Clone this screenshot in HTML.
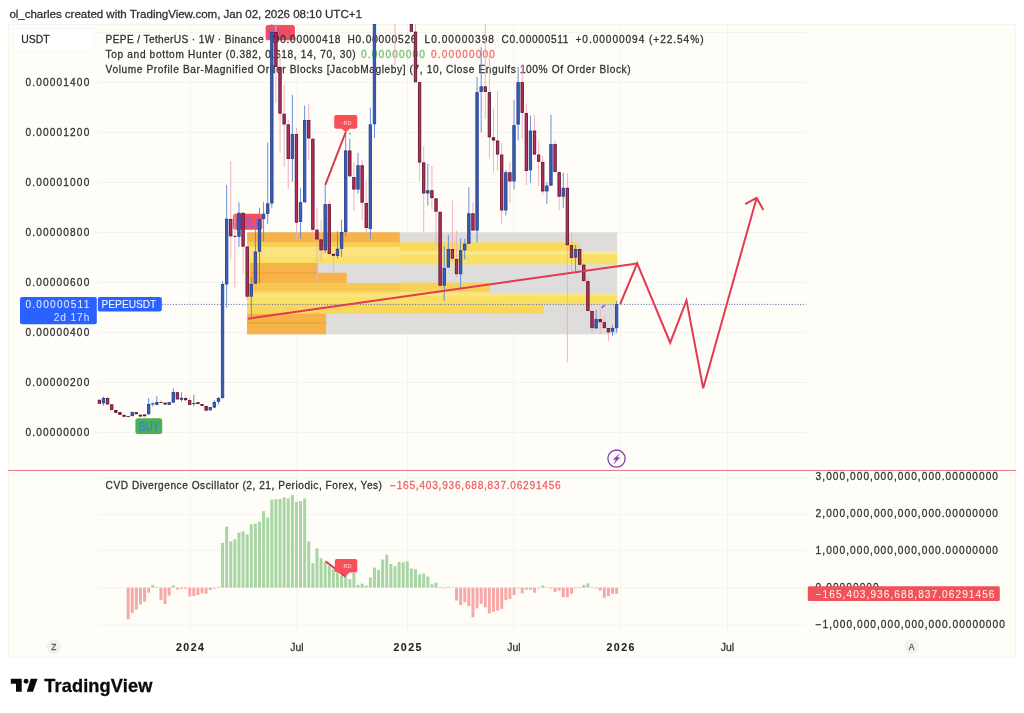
<!DOCTYPE html>
<html lang="en"><head><meta charset="utf-8"><title>PEPEUSDT chart</title>
<style>
html,body{margin:0;padding:0;background:#fff;}
body{width:1024px;height:713px;overflow:hidden;font-family:"Liberation Sans", Arial, sans-serif;}
svg{display:block;position:absolute;left:0;top:0;}
text{font-family:"Liberation Sans", Arial, sans-serif;}
</style></head><body>
<svg width="1024" height="713" viewBox="0 0 1024 713">
<rect x="8.5" y="24.5" width="1007" height="633" fill="#fefdf8" stroke="#f7f5f0" stroke-width="1"/>
<rect x="97" y="32" width="710.5" height="1" fill="#f5f3ee"/>
<rect x="97" y="82" width="710.5" height="1" fill="#f5f3ee"/>
<rect x="97" y="132" width="710.5" height="1" fill="#f5f3ee"/>
<rect x="97" y="182" width="710.5" height="1" fill="#f5f3ee"/>
<rect x="97" y="232" width="710.5" height="1" fill="#f5f3ee"/>
<rect x="97" y="282" width="710.5" height="1" fill="#f5f3ee"/>
<rect x="97" y="332" width="710.5" height="1" fill="#f5f3ee"/>
<rect x="97" y="382" width="710.5" height="1" fill="#f5f3ee"/>
<rect x="97" y="432" width="710.5" height="1" fill="#f5f3ee"/>
<rect x="97" y="477.5" width="710.5" height="1" fill="#f5f3ee"/>
<rect x="97" y="514.1" width="710.5" height="1" fill="#f5f3ee"/>
<rect x="97" y="549.8" width="710.5" height="1" fill="#f5f3ee"/>
<rect x="97" y="587.1" width="710.5" height="1" fill="#f5f3ee"/>
<rect x="97" y="623.6" width="710.5" height="1" fill="#f5f3ee"/>
<rect x="189.5" y="24" width="1" height="608" fill="#f5f3ee"/>
<rect x="296.5" y="24" width="1" height="608" fill="#f5f3ee"/>
<rect x="407.0" y="24" width="1" height="608" fill="#f5f3ee"/>
<rect x="513.5" y="24" width="1" height="608" fill="#f5f3ee"/>
<rect x="620.0" y="24" width="1" height="608" fill="#f5f3ee"/>
<rect x="727.0" y="24" width="1" height="608" fill="#f5f3ee"/>
<rect x="265.6" y="25" width="29.3" height="15.3" rx="2.5" fill="#f94e57"/>
<text x="280.75" y="37.699999999999996" font-size="12.8" text-anchor="middle" fill="#a25cc4" stroke="#a25cc4" stroke-width="0.4" textLength="26.3" lengthAdjust="spacingAndGlyphs">SELL</text>
<rect x="233" y="213.75" width="29.3" height="16" rx="2.5" fill="#f94e57"/>
<text x="248.15" y="227.15" font-size="12.8" text-anchor="middle" fill="#a25cc4" stroke="#a25cc4" stroke-width="0.4" textLength="26.3" lengthAdjust="spacingAndGlyphs">SELL</text>
<text x="105.6" y="42.75" font-size="10.15" fill="#303030" stroke="#303030" stroke-width="0.26" text-anchor="start" textLength="158.0" lengthAdjust="spacing">PEPE / TetherUS · 1W · Binance</text>
<text x="271.5" y="42.75" font-size="10.15" fill="#303030" stroke="#303030" stroke-width="0.26" text-anchor="start" textLength="69.0" lengthAdjust="spacing">O0.00000418</text>
<text x="347.5" y="42.75" font-size="10.15" fill="#303030" stroke="#303030" stroke-width="0.26" text-anchor="start" textLength="69.0" lengthAdjust="spacing">H0.00000526</text>
<text x="424.5" y="42.75" font-size="10.15" fill="#303030" stroke="#303030" stroke-width="0.26" text-anchor="start" textLength="69.5" lengthAdjust="spacing">L0.00000398</text>
<text x="501.5" y="42.75" font-size="10.15" fill="#303030" stroke="#303030" stroke-width="0.26" text-anchor="start" textLength="67.0" lengthAdjust="spacing">C0.00000511</text>
<text x="575.5" y="42.75" font-size="10.15" fill="#303030" stroke="#303030" stroke-width="0.26" text-anchor="start" textLength="128.0" lengthAdjust="spacing">+0.00000094 (+22.54%)</text>
<text x="105.6" y="57.95" font-size="10.15" fill="#303030" stroke="#303030" stroke-width="0.26" text-anchor="start" textLength="250.0" lengthAdjust="spacing">Top and bottom Hunter (0.382, 0.618, 14, 70, 30)</text>
<text x="361" y="57.95" font-size="10.15" fill="#6bbf73" stroke="#6bbf73" stroke-width="0.26" text-anchor="start" textLength="64.0" lengthAdjust="spacing">0.00000000</text>
<text x="431" y="57.95" font-size="10.15" fill="#ee6b73" stroke="#ee6b73" stroke-width="0.26" text-anchor="start" textLength="64.0" lengthAdjust="spacing">0.00000000</text>
<text x="105.6" y="73.1" font-size="10.15" fill="#303030" stroke="#303030" stroke-width="0.26" text-anchor="start" textLength="525.0" lengthAdjust="spacing">Volume Profile Bar-Magnified Order Blocks [JacobMagleby] (7, 10, Close Engulfs 100% Of Order Block)</text>
<rect x="247.1" y="232.3" width="370.1" height="102.0" fill="#dedddb"/>
<rect x="247.1" y="232.3" width="152.7" height="10.1" fill="#f5b349"/>
<rect x="247.1" y="242.2" width="152.9" height="4.8" fill="#f8cf4e"/>
<rect x="247.1" y="246.8" width="152.9" height="10.4" fill="#fbe382"/>
<rect x="247.1" y="257.0" width="152.9" height="6.4" fill="#fae269"/>
<rect x="400.0" y="242.2" width="178.0" height="9.3" fill="#f8da5c"/>
<rect x="400.0" y="251.3" width="217.2" height="3.2" fill="#fbe98e"/>
<rect x="400.0" y="254.3" width="217.2" height="10.1" fill="#f9e066"/>
<rect x="247.1" y="262.9" width="3.1" height="20.5" fill="#fae269"/>
<rect x="250.0" y="262.9" width="67.8" height="20.3" fill="#f5b349"/>
<rect x="317.6" y="272.7" width="29.2" height="10.5" fill="#f5b349"/>
<rect x="250.0" y="272.3" width="67.8" height="1.7" fill="#f3a633"/>
<rect x="247.1" y="283.0" width="152.9" height="8.2" fill="#f6c851"/>
<rect x="247.1" y="291.0" width="152.9" height="2.8" fill="#f9d75d"/>
<rect x="400.0" y="282.6" width="90.0" height="9.6" fill="#f7d256"/>
<rect x="400.0" y="292.0" width="90.0" height="2.0" fill="#fae27c"/>
<rect x="247.1" y="293.6" width="152.9" height="3.8" fill="#fbe382"/>
<rect x="247.1" y="297.2" width="152.9" height="7.2" fill="#fae269"/>
<rect x="400.0" y="293.8" width="217.2" height="2.2" fill="#fbe585"/>
<rect x="400.0" y="295.8" width="217.2" height="8.6" fill="#fae064"/>
<rect x="247.1" y="304.2" width="296.9" height="9.8" fill="#f9d75d"/>
<rect x="247.1" y="313.8" width="79.0" height="20.5" fill="#f5b349"/>
<rect x="247.1" y="322.0" width="79.0" height="2.0" fill="#f3a633"/>
<line x1="162" y1="304.4" x2="806" y2="304.4" stroke="#5f70a8" stroke-width="1" stroke-dasharray="1.1 1.65"/>
<g><rect x="98.93" y="399.8" width="0.95" height="3.9" fill="#eeb0be"/><rect x="103.04" y="396.6" width="0.95" height="9.0" fill="#6389da"/><rect x="107.14" y="396.3" width="0.95" height="8.5" fill="#eeb0be"/><rect x="111.25" y="404.4" width="0.95" height="6.6" fill="#eeb0be"/><rect x="115.35" y="410.0" width="0.95" height="2.7" fill="#eeb0be"/><rect x="119.46" y="412.2" width="0.95" height="2.5" fill="#eeb0be"/><rect x="123.56" y="415.0" width="0.95" height="1.6" fill="#eeb0be"/><rect x="127.67" y="416.0" width="0.95" height="0.9" fill="#eeb0be"/><rect x="131.77" y="411.9" width="0.95" height="4.2" fill="#6389da"/><rect x="135.88" y="412.2" width="0.95" height="2.0" fill="#eeb0be"/><rect x="139.98" y="415.0" width="0.95" height="1.2" fill="#eeb0be"/><rect x="144.09" y="414.5" width="0.95" height="1.8" fill="#eeb0be"/><rect x="148.19" y="398.1" width="0.95" height="16.6" fill="#6389da"/><rect x="152.30" y="402.5" width="0.95" height="3.9" fill="#6389da"/><rect x="156.40" y="396.0" width="0.95" height="9.3" fill="#6389da"/><rect x="160.51" y="400.2" width="0.95" height="3.1" fill="#eeb0be"/><rect x="164.61" y="402.8" width="0.95" height="1.6" fill="#eeb0be"/><rect x="168.72" y="402.2" width="0.95" height="2.6" fill="#6389da"/><rect x="172.82" y="388.4" width="0.95" height="14.4" fill="#6389da"/><rect x="176.93" y="392.3" width="0.95" height="7.1" fill="#eeb0be"/><rect x="181.03" y="392.3" width="0.95" height="9.4" fill="#6389da"/><rect x="185.14" y="395.5" width="0.95" height="5.1" fill="#eeb0be"/><rect x="189.24" y="397.0" width="0.95" height="8.3" fill="#eeb0be"/><rect x="193.34" y="394.7" width="0.95" height="11.7" fill="#6389da"/><rect x="197.45" y="402.5" width="0.95" height="1.2" fill="#eeb0be"/><rect x="201.56" y="404.4" width="0.95" height="1.2" fill="#eeb0be"/><rect x="205.66" y="406.0" width="0.95" height="4.6" fill="#eeb0be"/><rect x="209.77" y="407.2" width="0.95" height="3.1" fill="#6389da"/><rect x="213.87" y="400.2" width="0.95" height="7.8" fill="#6389da"/><rect x="217.98" y="397.0" width="0.95" height="7.4" fill="#6389da"/><rect x="222.08" y="281.0" width="0.95" height="117.1" fill="#6389da"/><rect x="226.19" y="184.8" width="0.95" height="123.0" fill="#6389da"/><rect x="230.29" y="161.0" width="0.95" height="98.4" fill="#eeb0be"/><rect x="234.40" y="215.0" width="0.95" height="72.5" fill="#eeb0be"/><rect x="238.50" y="202.3" width="0.95" height="44.6" fill="#6389da"/><rect x="242.61" y="212.8" width="0.95" height="60.6" fill="#eeb0be"/><rect x="246.71" y="246.6" width="0.95" height="53.4" fill="#eeb0be"/><rect x="250.82" y="276.6" width="0.95" height="41.7" fill="#6389da"/><rect x="254.92" y="229.0" width="0.95" height="54.6" fill="#6389da"/><rect x="259.02" y="207.8" width="0.95" height="75.8" fill="#6389da"/><rect x="263.13" y="202.0" width="0.95" height="39.4" fill="#6389da"/><rect x="267.24" y="142.6" width="0.95" height="81.6" fill="#6389da"/><rect x="271.34" y="24.0" width="0.95" height="183.8" fill="#6389da"/><rect x="275.44" y="24.0" width="0.95" height="79.0" fill="#eeb0be"/><rect x="279.55" y="55.0" width="0.95" height="97.8" fill="#eeb0be"/><rect x="283.65" y="85.0" width="0.95" height="81.9" fill="#eeb0be"/><rect x="287.76" y="120.0" width="0.95" height="68.8" fill="#eeb0be"/><rect x="291.87" y="95.0" width="0.95" height="86.7" fill="#6389da"/><rect x="295.97" y="127.8" width="0.95" height="111.2" fill="#eeb0be"/><rect x="300.07" y="188.0" width="0.95" height="50.3" fill="#6389da"/><rect x="304.18" y="105.6" width="0.95" height="96.7" fill="#6389da"/><rect x="308.28" y="103.6" width="0.95" height="57.0" fill="#eeb0be"/><rect x="312.39" y="138.0" width="0.95" height="101.0" fill="#eeb0be"/><rect x="316.50" y="207.5" width="0.95" height="79.2" fill="#eeb0be"/><rect x="320.60" y="220.3" width="0.95" height="40.7" fill="#eeb0be"/><rect x="324.71" y="184.8" width="0.95" height="68.2" fill="#6389da"/><rect x="328.81" y="200.5" width="0.95" height="53.5" fill="#eeb0be"/><rect x="332.91" y="254.0" width="0.95" height="17.9" fill="#eeb0be"/><rect x="337.02" y="231.2" width="0.95" height="27.4" fill="#6389da"/><rect x="341.12" y="219.5" width="0.95" height="37.5" fill="#6389da"/><rect x="345.23" y="134.0" width="0.95" height="102.0" fill="#6389da"/><rect x="349.34" y="150.5" width="0.95" height="26.5" fill="#eeb0be"/><rect x="353.44" y="162.0" width="0.95" height="48.6" fill="#eeb0be"/><rect x="357.54" y="152.8" width="0.95" height="40.6" fill="#6389da"/><rect x="361.65" y="159.8" width="0.95" height="60.2" fill="#eeb0be"/><rect x="365.75" y="179.4" width="0.95" height="54.2" fill="#eeb0be"/><rect x="369.86" y="107.5" width="0.95" height="131.5" fill="#6389da"/><rect x="373.97" y="24.0" width="0.95" height="114.0" fill="#6389da"/><rect x="394.49" y="24.0" width="0.95" height="41.3" fill="#eeb0be"/><rect x="410.91" y="24.0" width="0.95" height="7.7" fill="#eeb0be"/><rect x="415.01" y="24.0" width="0.95" height="58.2" fill="#eeb0be"/><rect x="419.12" y="82.2" width="0.95" height="99.5" fill="#eeb0be"/><rect x="423.23" y="146.6" width="0.95" height="85.4" fill="#eeb0be"/><rect x="427.33" y="163.8" width="0.95" height="41.8" fill="#6389da"/><rect x="431.44" y="166.0" width="0.95" height="43.0" fill="#eeb0be"/><rect x="435.54" y="198.4" width="0.95" height="46.6" fill="#eeb0be"/><rect x="439.64" y="211.8" width="0.95" height="77.2" fill="#eeb0be"/><rect x="443.75" y="246.0" width="0.95" height="54.8" fill="#6389da"/><rect x="447.86" y="235.0" width="0.95" height="32.5" fill="#6389da"/><rect x="451.96" y="200.5" width="0.95" height="61.5" fill="#eeb0be"/><rect x="456.07" y="230.5" width="0.95" height="46.5" fill="#eeb0be"/><rect x="460.17" y="238.3" width="0.95" height="51.5" fill="#6389da"/><rect x="464.27" y="239.0" width="0.95" height="20.4" fill="#6389da"/><rect x="468.38" y="187.2" width="0.95" height="56.6" fill="#6389da"/><rect x="472.49" y="202.8" width="0.95" height="27.7" fill="#eeb0be"/><rect x="476.59" y="77.0" width="0.95" height="165.2" fill="#6389da"/><rect x="480.70" y="47.3" width="0.95" height="85.2" fill="#6389da"/><rect x="484.80" y="24.0" width="0.95" height="95.0" fill="#eeb0be"/><rect x="488.90" y="55.0" width="0.95" height="103.3" fill="#eeb0be"/><rect x="493.01" y="108.3" width="0.95" height="64.0" fill="#eeb0be"/><rect x="497.12" y="91.0" width="0.95" height="79.8" fill="#eeb0be"/><rect x="501.22" y="143.0" width="0.95" height="81.2" fill="#eeb0be"/><rect x="505.33" y="170.0" width="0.95" height="45.5" fill="#6389da"/><rect x="509.43" y="162.2" width="0.95" height="40.6" fill="#eeb0be"/><rect x="513.53" y="100.0" width="0.95" height="89.5" fill="#6389da"/><rect x="517.64" y="67.0" width="0.95" height="73.4" fill="#6389da"/><rect x="521.75" y="64.0" width="0.95" height="75.0" fill="#eeb0be"/><rect x="525.85" y="103.8" width="0.95" height="81.2" fill="#eeb0be"/><rect x="529.96" y="115.5" width="0.95" height="67.3" fill="#6389da"/><rect x="534.06" y="114.7" width="0.95" height="39.8" fill="#eeb0be"/><rect x="538.17" y="140.5" width="0.95" height="45.5" fill="#eeb0be"/><rect x="542.27" y="155.3" width="0.95" height="40.0" fill="#eeb0be"/><rect x="546.38" y="182.0" width="0.95" height="21.9" fill="#6389da"/><rect x="550.48" y="114.7" width="0.95" height="70.9" fill="#6389da"/><rect x="554.59" y="140.5" width="0.95" height="31.5" fill="#eeb0be"/><rect x="558.69" y="172.2" width="0.95" height="37.8" fill="#eeb0be"/><rect x="562.80" y="172.7" width="0.95" height="35.1" fill="#6389da"/><rect x="566.90" y="173.4" width="0.95" height="188.6" fill="#eeb0be"/><rect x="571.00" y="232.8" width="0.95" height="39.2" fill="#eeb0be"/><rect x="575.11" y="245.0" width="0.95" height="26.4" fill="#6389da"/><rect x="579.22" y="244.5" width="0.95" height="22.5" fill="#eeb0be"/><rect x="583.32" y="264.7" width="0.95" height="18.3" fill="#eeb0be"/><rect x="587.43" y="276.0" width="0.95" height="35.0" fill="#eeb0be"/><rect x="591.53" y="311.0" width="0.95" height="22.0" fill="#eeb0be"/><rect x="595.63" y="310.0" width="0.95" height="18.4" fill="#6389da"/><rect x="599.74" y="308.0" width="0.95" height="26.0" fill="#eeb0be"/><rect x="603.85" y="315.0" width="0.95" height="13.1" fill="#eeb0be"/><rect x="607.95" y="328.1" width="0.95" height="12.9" fill="#eeb0be"/><rect x="612.05" y="325.3" width="0.95" height="10.9" fill="#6389da"/><rect x="616.16" y="301.0" width="0.95" height="31.3" fill="#6389da"/><rect x="349.34" y="138.75" width="0.95" height="11.8" fill="#6389da"/></g>
<g><rect x="98.18" y="400.20" width="2.44" height="3.15" fill="#b42f5c" stroke="#5e1431" stroke-width="0.85"/><rect x="102.29" y="398.50" width="2.44" height="4.40" fill="#3a5eb6" stroke="#283f8e" stroke-width="0.85"/><rect x="106.39" y="398.50" width="2.44" height="5.50" fill="#b42f5c" stroke="#5e1431" stroke-width="0.85"/><rect x="110.50" y="404.80" width="2.44" height="4.60" fill="#b42f5c" stroke="#5e1431" stroke-width="0.85"/><rect x="114.60" y="410.40" width="2.44" height="1.90" fill="#6a1a3c" stroke="#5e1431" stroke-width="0.85"/><rect x="118.71" y="412.60" width="2.44" height="1.70" fill="#6a1a3c" stroke="#5e1431" stroke-width="0.85"/><rect x="122.81" y="415.30" width="2.44" height="1.00" fill="#6a1a3c" stroke="#5e1431" stroke-width="0.85"/><rect x="126.54" y="416.0" width="3.2" height="0.9" fill="#5e1431"/><rect x="131.02" y="412.30" width="2.44" height="3.40" fill="#3a5eb6" stroke="#283f8e" stroke-width="0.85"/><rect x="135.13" y="412.60" width="2.44" height="1.20" fill="#6a1a3c" stroke="#5e1431" stroke-width="0.85"/><rect x="139.23" y="415.12" width="2.44" height="1.00" fill="#6a1a3c" stroke="#5e1431" stroke-width="0.85"/><rect x="143.34" y="414.88" width="2.44" height="1.00" fill="#6a1a3c" stroke="#5e1431" stroke-width="0.85"/><rect x="147.44" y="404.40" width="2.44" height="9.40" fill="#3a5eb6" stroke="#283f8e" stroke-width="0.85"/><rect x="151.17" y="403.3" width="3.2" height="1.1" fill="#283f8e"/><rect x="155.65" y="402.40" width="2.44" height="2.00" fill="#3a5eb6" stroke="#283f8e" stroke-width="0.85"/><rect x="159.38" y="402.0" width="3.2" height="0.9" fill="#5e1431"/><rect x="163.86" y="403.10" width="2.44" height="1.00" fill="#6a1a3c" stroke="#5e1431" stroke-width="0.85"/><rect x="167.97" y="402.60" width="2.44" height="1.80" fill="#3a5eb6" stroke="#283f8e" stroke-width="0.85"/><rect x="172.07" y="392.40" width="2.44" height="9.70" fill="#3a5eb6" stroke="#283f8e" stroke-width="0.85"/><rect x="176.18" y="392.70" width="2.44" height="6.30" fill="#b42f5c" stroke="#5e1431" stroke-width="0.85"/><rect x="180.28" y="398.25" width="2.44" height="1.00" fill="#3a2c6e" stroke="#283f8e" stroke-width="0.85"/><rect x="184.39" y="398.50" width="2.44" height="1.30" fill="#6a1a3c" stroke="#5e1431" stroke-width="0.85"/><rect x="188.49" y="400.60" width="2.44" height="3.80" fill="#b42f5c" stroke="#5e1431" stroke-width="0.85"/><rect x="192.22" y="403.0" width="3.2" height="1.1" fill="#283f8e"/><rect x="196.70" y="402.62" width="2.44" height="1.00" fill="#6a1a3c" stroke="#5e1431" stroke-width="0.85"/><rect x="200.81" y="404.50" width="2.44" height="1.00" fill="#6a1a3c" stroke="#5e1431" stroke-width="0.85"/><rect x="204.91" y="406.40" width="2.44" height="3.80" fill="#b42f5c" stroke="#5e1431" stroke-width="0.85"/><rect x="209.02" y="407.60" width="2.44" height="2.30" fill="#3a5eb6" stroke="#283f8e" stroke-width="0.85"/><rect x="213.12" y="402.40" width="2.44" height="4.70" fill="#3a5eb6" stroke="#283f8e" stroke-width="0.85"/><rect x="217.23" y="398.50" width="2.44" height="2.80" fill="#3a5eb6" stroke="#283f8e" stroke-width="0.85"/><rect x="221.33" y="284.40" width="2.44" height="113.30" fill="#3a5eb6" stroke="#283f8e" stroke-width="0.85"/><rect x="225.44" y="219.15" width="2.44" height="64.85" fill="#3a5eb6" stroke="#283f8e" stroke-width="0.85"/><rect x="229.54" y="219.40" width="2.44" height="16.45" fill="#b42f5c" stroke="#5e1431" stroke-width="0.85"/><rect x="233.27" y="235.9" width="3.2" height="0.9" fill="#5e1431"/><rect x="237.75" y="213.20" width="2.44" height="23.10" fill="#3a5eb6" stroke="#283f8e" stroke-width="0.85"/><rect x="241.86" y="213.20" width="2.44" height="33.00" fill="#b42f5c" stroke="#5e1431" stroke-width="0.85"/><rect x="245.96" y="247.00" width="2.44" height="49.20" fill="#b42f5c" stroke="#5e1431" stroke-width="0.85"/><rect x="250.07" y="284.40" width="2.44" height="11.80" fill="#3a5eb6" stroke="#283f8e" stroke-width="0.85"/><rect x="254.17" y="252.00" width="2.44" height="31.20" fill="#3a5eb6" stroke="#283f8e" stroke-width="0.85"/><rect x="258.27" y="219.40" width="2.44" height="31.80" fill="#3a5eb6" stroke="#283f8e" stroke-width="0.85"/><rect x="262.38" y="214.15" width="2.44" height="4.45" fill="#3a5eb6" stroke="#283f8e" stroke-width="0.85"/><rect x="266.49" y="203.80" width="2.44" height="9.55" fill="#3a5eb6" stroke="#283f8e" stroke-width="0.85"/><rect x="270.59" y="32.40" width="2.44" height="170.60" fill="#3a5eb6" stroke="#283f8e" stroke-width="0.85"/><rect x="274.69" y="32.40" width="2.44" height="34.20" fill="#b42f5c" stroke="#5e1431" stroke-width="0.85"/><rect x="278.80" y="67.40" width="2.44" height="45.80" fill="#b42f5c" stroke="#5e1431" stroke-width="0.85"/><rect x="282.90" y="114.15" width="2.44" height="9.85" fill="#b42f5c" stroke="#5e1431" stroke-width="0.85"/><rect x="287.01" y="124.80" width="2.44" height="33.80" fill="#b42f5c" stroke="#5e1431" stroke-width="0.85"/><rect x="291.12" y="134.40" width="2.44" height="24.20" fill="#3a5eb6" stroke="#283f8e" stroke-width="0.85"/><rect x="295.22" y="134.40" width="2.44" height="87.80" fill="#b42f5c" stroke="#5e1431" stroke-width="0.85"/><rect x="299.32" y="202.70" width="2.44" height="18.80" fill="#3a5eb6" stroke="#283f8e" stroke-width="0.85"/><rect x="303.43" y="120.40" width="2.44" height="81.50" fill="#3a5eb6" stroke="#283f8e" stroke-width="0.85"/><rect x="307.53" y="120.40" width="2.44" height="17.60" fill="#b42f5c" stroke="#5e1431" stroke-width="0.85"/><rect x="311.64" y="139.15" width="2.44" height="90.15" fill="#b42f5c" stroke="#5e1431" stroke-width="0.85"/><rect x="315.75" y="230.10" width="2.44" height="8.90" fill="#b42f5c" stroke="#5e1431" stroke-width="0.85"/><rect x="319.85" y="239.80" width="2.44" height="10.10" fill="#b42f5c" stroke="#5e1431" stroke-width="0.85"/><rect x="323.96" y="204.60" width="2.44" height="45.30" fill="#3a5eb6" stroke="#283f8e" stroke-width="0.85"/><rect x="328.06" y="204.60" width="2.44" height="49.00" fill="#b42f5c" stroke="#5e1431" stroke-width="0.85"/><rect x="332.16" y="254.25" width="2.44" height="1.00" fill="#6a1a3c" stroke="#5e1431" stroke-width="0.85"/><rect x="336.27" y="249.15" width="2.44" height="6.45" fill="#3a5eb6" stroke="#283f8e" stroke-width="0.85"/><rect x="340.38" y="232.40" width="2.44" height="15.95" fill="#3a5eb6" stroke="#283f8e" stroke-width="0.85"/><rect x="344.48" y="150.90" width="2.44" height="80.70" fill="#3a5eb6" stroke="#283f8e" stroke-width="0.85"/><rect x="348.59" y="150.90" width="2.44" height="24.95" fill="#b42f5c" stroke="#5e1431" stroke-width="0.85"/><rect x="352.69" y="177.40" width="2.44" height="11.70" fill="#b42f5c" stroke="#5e1431" stroke-width="0.85"/><rect x="356.79" y="165.70" width="2.44" height="23.40" fill="#3a5eb6" stroke="#283f8e" stroke-width="0.85"/><rect x="360.90" y="165.70" width="2.44" height="36.50" fill="#b42f5c" stroke="#5e1431" stroke-width="0.85"/><rect x="365.00" y="203.40" width="2.44" height="24.20" fill="#b42f5c" stroke="#5e1431" stroke-width="0.85"/><rect x="369.11" y="124.80" width="2.44" height="103.60" fill="#3a5eb6" stroke="#283f8e" stroke-width="0.85"/><rect x="373.22" y="24.40" width="2.44" height="99.40" fill="#3a5eb6" stroke="#283f8e" stroke-width="0.85"/><rect x="410.16" y="24.40" width="2.44" height="6.90" fill="#b42f5c" stroke="#5e1431" stroke-width="0.85"/><rect x="414.26" y="32.10" width="2.44" height="49.70" fill="#b42f5c" stroke="#5e1431" stroke-width="0.85"/><rect x="418.37" y="82.60" width="2.44" height="79.50" fill="#b42f5c" stroke="#5e1431" stroke-width="0.85"/><rect x="422.48" y="162.90" width="2.44" height="30.10" fill="#b42f5c" stroke="#5e1431" stroke-width="0.85"/><rect x="426.58" y="190.70" width="2.44" height="2.30" fill="#3a5eb6" stroke="#283f8e" stroke-width="0.85"/><rect x="430.69" y="190.70" width="2.44" height="7.00" fill="#b42f5c" stroke="#5e1431" stroke-width="0.85"/><rect x="434.79" y="198.80" width="2.44" height="12.40" fill="#b42f5c" stroke="#5e1431" stroke-width="0.85"/><rect x="438.89" y="212.20" width="2.44" height="73.00" fill="#b42f5c" stroke="#5e1431" stroke-width="0.85"/><rect x="443.00" y="268.40" width="2.44" height="16.80" fill="#3a5eb6" stroke="#283f8e" stroke-width="0.85"/><rect x="447.11" y="249.40" width="2.44" height="17.70" fill="#3a5eb6" stroke="#283f8e" stroke-width="0.85"/><rect x="451.21" y="249.40" width="2.44" height="8.80" fill="#b42f5c" stroke="#5e1431" stroke-width="0.85"/><rect x="455.32" y="259.40" width="2.44" height="14.40" fill="#b42f5c" stroke="#5e1431" stroke-width="0.85"/><rect x="459.42" y="250.70" width="2.44" height="23.10" fill="#3a5eb6" stroke="#283f8e" stroke-width="0.85"/><rect x="463.52" y="244.15" width="2.44" height="5.75" fill="#3a5eb6" stroke="#283f8e" stroke-width="0.85"/><rect x="467.63" y="213.70" width="2.44" height="29.65" fill="#3a5eb6" stroke="#283f8e" stroke-width="0.85"/><rect x="471.74" y="213.70" width="2.44" height="16.40" fill="#b42f5c" stroke="#5e1431" stroke-width="0.85"/><rect x="475.84" y="92.60" width="2.44" height="137.50" fill="#3a5eb6" stroke="#283f8e" stroke-width="0.85"/><rect x="479.95" y="86.80" width="2.44" height="4.70" fill="#3a5eb6" stroke="#283f8e" stroke-width="0.85"/><rect x="484.05" y="86.80" width="2.44" height="4.70" fill="#b42f5c" stroke="#5e1431" stroke-width="0.85"/><rect x="488.15" y="92.60" width="2.44" height="44.30" fill="#b42f5c" stroke="#5e1431" stroke-width="0.85"/><rect x="492.26" y="137.70" width="2.44" height="2.40" fill="#6a1a3c" stroke="#5e1431" stroke-width="0.85"/><rect x="496.37" y="141.00" width="2.44" height="13.10" fill="#b42f5c" stroke="#5e1431" stroke-width="0.85"/><rect x="500.47" y="155.00" width="2.44" height="55.00" fill="#b42f5c" stroke="#5e1431" stroke-width="0.85"/><rect x="504.58" y="172.70" width="2.44" height="37.30" fill="#3a5eb6" stroke="#283f8e" stroke-width="0.85"/><rect x="508.68" y="172.70" width="2.44" height="8.30" fill="#b42f5c" stroke="#5e1431" stroke-width="0.85"/><rect x="512.78" y="125.60" width="2.44" height="55.40" fill="#3a5eb6" stroke="#283f8e" stroke-width="0.85"/><rect x="516.89" y="82.60" width="2.44" height="41.50" fill="#3a5eb6" stroke="#283f8e" stroke-width="0.85"/><rect x="521.00" y="82.60" width="2.44" height="29.80" fill="#b42f5c" stroke="#5e1431" stroke-width="0.85"/><rect x="525.10" y="113.40" width="2.44" height="57.20" fill="#b42f5c" stroke="#5e1431" stroke-width="0.85"/><rect x="529.21" y="131.00" width="2.44" height="38.90" fill="#3a5eb6" stroke="#283f8e" stroke-width="0.85"/><rect x="533.31" y="131.00" width="2.44" height="23.10" fill="#b42f5c" stroke="#5e1431" stroke-width="0.85"/><rect x="537.42" y="155.00" width="2.44" height="6.30" fill="#b42f5c" stroke="#5e1431" stroke-width="0.85"/><rect x="541.52" y="162.40" width="2.44" height="28.60" fill="#b42f5c" stroke="#5e1431" stroke-width="0.85"/><rect x="545.62" y="186.00" width="2.44" height="5.00" fill="#3a5eb6" stroke="#283f8e" stroke-width="0.85"/><rect x="549.73" y="144.40" width="2.44" height="40.80" fill="#3a5eb6" stroke="#283f8e" stroke-width="0.85"/><rect x="553.84" y="144.40" width="2.44" height="27.20" fill="#b42f5c" stroke="#5e1431" stroke-width="0.85"/><rect x="557.94" y="172.60" width="2.44" height="23.60" fill="#b42f5c" stroke="#5e1431" stroke-width="0.85"/><rect x="562.05" y="188.20" width="2.44" height="8.00" fill="#3a5eb6" stroke="#283f8e" stroke-width="0.85"/><rect x="566.15" y="188.20" width="2.44" height="56.60" fill="#b42f5c" stroke="#5e1431" stroke-width="0.85"/><rect x="570.25" y="245.60" width="2.44" height="11.80" fill="#b42f5c" stroke="#5e1431" stroke-width="0.85"/><rect x="574.36" y="249.40" width="2.44" height="7.70" fill="#3a5eb6" stroke="#283f8e" stroke-width="0.85"/><rect x="578.47" y="249.40" width="2.44" height="14.90" fill="#b42f5c" stroke="#5e1431" stroke-width="0.85"/><rect x="582.57" y="265.10" width="2.44" height="15.50" fill="#b42f5c" stroke="#5e1431" stroke-width="0.85"/><rect x="586.68" y="281.60" width="2.44" height="29.00" fill="#b42f5c" stroke="#5e1431" stroke-width="0.85"/><rect x="590.78" y="311.40" width="2.44" height="16.30" fill="#b42f5c" stroke="#5e1431" stroke-width="0.85"/><rect x="594.88" y="319.40" width="2.44" height="8.60" fill="#3a5eb6" stroke="#283f8e" stroke-width="0.85"/><rect x="598.99" y="319.40" width="2.44" height="2.40" fill="#6a1a3c" stroke="#5e1431" stroke-width="0.85"/><rect x="603.10" y="322.60" width="2.44" height="5.10" fill="#b42f5c" stroke="#5e1431" stroke-width="0.85"/><rect x="607.20" y="328.50" width="2.44" height="3.40" fill="#b42f5c" stroke="#5e1431" stroke-width="0.85"/><rect x="611.30" y="328.50" width="2.44" height="2.70" fill="#3a5eb6" stroke="#283f8e" stroke-width="0.85"/><rect x="615.41" y="304.60" width="2.44" height="23.10" fill="#3a5eb6" stroke="#283f8e" stroke-width="0.85"/></g>
<path d="M601.4 307.8 L605 305.3" stroke="#a25fd6" stroke-width="1.7" fill="none"/>
<line x1="248.1" y1="318.7" x2="637.2" y2="263.5" stroke="#e33a50" stroke-width="2"/>
<polyline points="620.2,304 637.2,263.3 670.2,342.7 686.5,300.4 703.2,388.3 756.6,197.9" fill="none" stroke="#e33a50" stroke-width="2" stroke-linejoin="miter"/>
<polyline points="745.2,204.1 756.6,197.9 763.4,210" fill="none" stroke="#e33a50" stroke-width="2"/>
<line x1="325.3" y1="184.8" x2="345.75" y2="132" stroke="#d63a4e" stroke-width="2"/>
<path d="M336.2 115.1 H355.3 a2 2 0 0 1 2 2 V126.7 a2 2 0 0 1 -2 2 H349.8 L345.75 132.2 L341.8 128.7 H336.2 a2 2 0 0 1 -2 -2 V117.1 a2 2 0 0 1 2 -2 Z" fill="#f94e57"/>
<text x="346.6" y="124.6" font-size="5.6" text-anchor="middle" fill="#ffd9da">-RD</text>
<circle cx="349.9" cy="133.8" r="0.9" fill="#5cb85c"/>
<rect x="135.4" y="418.3" width="26.8" height="15.7" rx="2.5" fill="#4caf50"/>
<text x="149.2" y="430.8" font-size="12.2" text-anchor="middle" fill="#3390b4" stroke="#3390b4" stroke-width="0.45" textLength="20.6" lengthAdjust="spacingAndGlyphs">BUY</text>
<circle cx="616.5" cy="458.6" r="8.6" fill="none" stroke="#7d3fa3" stroke-width="1.3"/>
<path d="M619.2 454 L613.4 459.5 L616.3 459.5 L613.9 463.5 L619.8 457.7 L616.9 457.7 Z" fill="#9a2ec4" stroke="#8a30b0" stroke-width="0.4" stroke-linejoin="round"/>
<rect x="8" y="470" width="1008" height="1" fill="#e77a87"/>
<g><rect x="126.64" y="587.6" width="3" height="31.6" fill="#f6aaa8"/><rect x="130.74" y="587.6" width="3" height="25.4" fill="#f6aaa8"/><rect x="134.85" y="587.6" width="3" height="22.0" fill="#f6aaa8"/><rect x="138.95" y="587.6" width="3" height="16.8" fill="#f6aaa8"/><rect x="143.06" y="587.6" width="3" height="14.1" fill="#f6aaa8"/><rect x="147.16" y="587.6" width="3" height="5.1" fill="#f6aaa8"/><rect x="151.27" y="584.9" width="3" height="2.7" fill="#a9d5a5"/><rect x="155.37" y="586.9" width="3" height="0.7" fill="#a9d5a5"/><rect x="159.48" y="587.6" width="3" height="12.4" fill="#f6aaa8"/><rect x="163.58" y="587.6" width="3" height="16.4" fill="#f6aaa8"/><rect x="167.69" y="587.6" width="3" height="8.0" fill="#f6aaa8"/><rect x="171.79" y="585.3" width="3" height="2.3" fill="#a9d5a5"/><rect x="175.90" y="587.6" width="3" height="2.0" fill="#f6aaa8"/><rect x="180.00" y="587.6" width="3" height="1.2" fill="#f6aaa8"/><rect x="184.11" y="587.6" width="3" height="1.2" fill="#f6aaa8"/><rect x="188.21" y="587.6" width="3" height="8.9" fill="#f6aaa8"/><rect x="192.31" y="587.6" width="3" height="8.4" fill="#f6aaa8"/><rect x="196.42" y="587.6" width="3" height="7.4" fill="#f6aaa8"/><rect x="200.53" y="587.6" width="3" height="5.8" fill="#f6aaa8"/><rect x="204.63" y="587.6" width="3" height="6.2" fill="#f6aaa8"/><rect x="208.74" y="587.6" width="3" height="2.4" fill="#f6aaa8"/><rect x="212.84" y="587.6" width="3" height="0.8" fill="#f6aaa8"/><rect x="216.95" y="586.9" width="3" height="0.7" fill="#a9d5a5"/><rect x="221.05" y="542.9" width="3" height="44.7" fill="#a9d5a5"/><rect x="225.16" y="526.5" width="3" height="61.1" fill="#a9d5a5"/><rect x="229.26" y="541.5" width="3" height="46.1" fill="#a9d5a5"/><rect x="233.37" y="539.3" width="3" height="48.3" fill="#a9d5a5"/><rect x="237.47" y="532.6" width="3" height="55.0" fill="#a9d5a5"/><rect x="241.58" y="531.2" width="3" height="56.4" fill="#a9d5a5"/><rect x="245.68" y="534.4" width="3" height="53.2" fill="#a9d5a5"/><rect x="249.79" y="524.3" width="3" height="63.3" fill="#a9d5a5"/><rect x="253.89" y="523.6" width="3" height="64.0" fill="#a9d5a5"/><rect x="258.00" y="521.6" width="3" height="66.0" fill="#a9d5a5"/><rect x="262.10" y="511.2" width="3" height="76.4" fill="#a9d5a5"/><rect x="266.21" y="517.5" width="3" height="70.1" fill="#a9d5a5"/><rect x="270.31" y="499.6" width="3" height="88.0" fill="#a9d5a5"/><rect x="274.42" y="499.1" width="3" height="88.5" fill="#a9d5a5"/><rect x="278.52" y="498.9" width="3" height="88.7" fill="#a9d5a5"/><rect x="282.62" y="497.3" width="3" height="90.3" fill="#a9d5a5"/><rect x="286.73" y="498.4" width="3" height="89.2" fill="#a9d5a5"/><rect x="290.84" y="495.0" width="3" height="92.6" fill="#a9d5a5"/><rect x="294.94" y="501.8" width="3" height="85.8" fill="#a9d5a5"/><rect x="299.05" y="501.1" width="3" height="86.5" fill="#a9d5a5"/><rect x="303.15" y="498.4" width="3" height="89.2" fill="#a9d5a5"/><rect x="307.25" y="541.5" width="3" height="46.1" fill="#a9d5a5"/><rect x="311.36" y="563.1" width="3" height="24.5" fill="#a9d5a5"/><rect x="315.47" y="548.3" width="3" height="39.3" fill="#a9d5a5"/><rect x="319.57" y="558.4" width="3" height="29.2" fill="#a9d5a5"/><rect x="323.68" y="562.4" width="3" height="25.2" fill="#a9d5a5"/><rect x="327.78" y="565.8" width="3" height="21.8" fill="#a9d5a5"/><rect x="331.88" y="569.2" width="3" height="18.4" fill="#a9d5a5"/><rect x="335.99" y="573.0" width="3" height="14.6" fill="#a9d5a5"/><rect x="340.10" y="574.8" width="3" height="12.8" fill="#a9d5a5"/><rect x="344.20" y="576.3" width="3" height="11.3" fill="#a9d5a5"/><rect x="348.31" y="579.2" width="3" height="8.4" fill="#a9d5a5"/><rect x="352.41" y="573.0" width="3" height="14.6" fill="#a9d5a5"/><rect x="356.51" y="584.9" width="3" height="2.7" fill="#a9d5a5"/><rect x="360.62" y="583.7" width="3" height="3.9" fill="#a9d5a5"/><rect x="364.73" y="585.5" width="3" height="2.1" fill="#a9d5a5"/><rect x="368.83" y="577.5" width="3" height="10.1" fill="#a9d5a5"/><rect x="372.94" y="567.6" width="3" height="20.0" fill="#a9d5a5"/><rect x="377.04" y="569.8" width="3" height="17.8" fill="#a9d5a5"/><rect x="381.14" y="559.5" width="3" height="28.1" fill="#a9d5a5"/><rect x="385.25" y="554.6" width="3" height="33.0" fill="#a9d5a5"/><rect x="389.36" y="564.0" width="3" height="23.6" fill="#a9d5a5"/><rect x="393.46" y="566.2" width="3" height="21.4" fill="#a9d5a5"/><rect x="397.57" y="562.0" width="3" height="25.6" fill="#a9d5a5"/><rect x="401.67" y="562.4" width="3" height="25.2" fill="#a9d5a5"/><rect x="405.78" y="561.3" width="3" height="26.3" fill="#a9d5a5"/><rect x="409.88" y="568.5" width="3" height="19.1" fill="#a9d5a5"/><rect x="413.99" y="569.2" width="3" height="18.4" fill="#a9d5a5"/><rect x="418.09" y="574.3" width="3" height="13.3" fill="#a9d5a5"/><rect x="422.20" y="573.6" width="3" height="14.0" fill="#a9d5a5"/><rect x="426.30" y="576.6" width="3" height="11.0" fill="#a9d5a5"/><rect x="430.41" y="584.2" width="3" height="3.4" fill="#a9d5a5"/><rect x="434.51" y="582.6" width="3" height="5.0" fill="#a9d5a5"/><rect x="438.62" y="587.0" width="3" height="0.6" fill="#a9d5a5"/><rect x="442.72" y="587.6" width="3" height="0.8" fill="#f6aaa8"/><rect x="446.83" y="586.7" width="3" height="0.9" fill="#a9d5a5"/><rect x="450.93" y="587.2" width="3" height="0.4" fill="#a9d5a5"/><rect x="455.04" y="587.6" width="3" height="13.0" fill="#f6aaa8"/><rect x="459.14" y="587.6" width="3" height="17.4" fill="#f6aaa8"/><rect x="463.25" y="587.6" width="3" height="14.6" fill="#f6aaa8"/><rect x="467.35" y="587.6" width="3" height="18.6" fill="#f6aaa8"/><rect x="471.46" y="587.6" width="3" height="29.8" fill="#f6aaa8"/><rect x="475.56" y="587.6" width="3" height="20.8" fill="#f6aaa8"/><rect x="479.67" y="587.6" width="3" height="16.4" fill="#f6aaa8"/><rect x="483.77" y="587.6" width="3" height="19.7" fill="#f6aaa8"/><rect x="487.88" y="587.6" width="3" height="25.8" fill="#f6aaa8"/><rect x="491.98" y="587.6" width="3" height="24.2" fill="#f6aaa8"/><rect x="496.09" y="587.6" width="3" height="23.1" fill="#f6aaa8"/><rect x="500.19" y="587.6" width="3" height="21.3" fill="#f6aaa8"/><rect x="504.30" y="587.6" width="3" height="12.4" fill="#f6aaa8"/><rect x="508.40" y="587.6" width="3" height="11.4" fill="#f6aaa8"/><rect x="512.50" y="587.6" width="3" height="7.4" fill="#f6aaa8"/><rect x="516.61" y="587.6" width="3" height="0.8" fill="#f6aaa8"/><rect x="520.72" y="587.6" width="3" height="5.8" fill="#f6aaa8"/><rect x="524.82" y="587.6" width="3" height="2.2" fill="#f6aaa8"/><rect x="528.93" y="587.6" width="3" height="2.2" fill="#f6aaa8"/><rect x="533.03" y="587.6" width="3" height="5.1" fill="#f6aaa8"/><rect x="537.14" y="587.6" width="3" height="0.8" fill="#f6aaa8"/><rect x="541.24" y="585.5" width="3" height="2.1" fill="#a9d5a5"/><rect x="545.35" y="587.1" width="3" height="0.5" fill="#a9d5a5"/><rect x="549.45" y="587.6" width="3" height="1.0" fill="#f6aaa8"/><rect x="553.56" y="587.6" width="3" height="4.4" fill="#f6aaa8"/><rect x="557.66" y="587.6" width="3" height="2.9" fill="#f6aaa8"/><rect x="561.77" y="587.6" width="3" height="9.6" fill="#f6aaa8"/><rect x="565.87" y="587.6" width="3" height="9.6" fill="#f6aaa8"/><rect x="569.98" y="587.6" width="3" height="6.2" fill="#f6aaa8"/><rect x="574.08" y="587.6" width="3" height="0.8" fill="#f6aaa8"/><rect x="578.19" y="587.0" width="3" height="0.6" fill="#a9d5a5"/><rect x="582.29" y="584.9" width="3" height="2.7" fill="#a9d5a5"/><rect x="586.40" y="583.3" width="3" height="4.3" fill="#a9d5a5"/><rect x="590.50" y="587.1" width="3" height="0.5" fill="#a9d5a5"/><rect x="594.61" y="587.6" width="3" height="0.8" fill="#f6aaa8"/><rect x="598.71" y="587.6" width="3" height="2.9" fill="#f6aaa8"/><rect x="602.82" y="587.6" width="3" height="10.1" fill="#f6aaa8"/><rect x="606.92" y="587.6" width="3" height="8.4" fill="#f6aaa8"/><rect x="611.02" y="587.6" width="3" height="6.2" fill="#f6aaa8"/><rect x="615.13" y="587.6" width="3" height="6.2" fill="#f6aaa8"/></g>
<line x1="325.4" y1="561.3" x2="345.6" y2="576.6" stroke="#d63a4e" stroke-width="2"/>
<path d="M336.8 559 H355.3 a2 2 0 0 1 2 2 V570.5 a2 2 0 0 1 -2 2 H349.6 L345.6 576.6 L341.8 572.5 H336.8 a2 2 0 0 1 -2 -2 V561 a2 2 0 0 1 2 -2 Z" fill="#f94e57"/>
<text x="346.6" y="568.2" font-size="5.6" text-anchor="middle" fill="#ffd9da">-RD</text>
<text x="9.4" y="17.6" font-size="11.6" fill="#2e2e2e" stroke="#2e2e2e" stroke-width="0.26" text-anchor="start" textLength="352.5" lengthAdjust="spacing">ol_charles created with TradingView.com, Jan 02, 2026 08:10 UTC+1</text>
<rect x="12.9" y="28.1" width="81.1" height="23.5" rx="3.5" fill="#ffffff" stroke="#f8f6f1" stroke-width="1"/>
<text x="21.3" y="43.1" font-size="10.4" fill="#2e2e2e" stroke="#2e2e2e" stroke-width="0.26" text-anchor="start" textLength="28.4" lengthAdjust="spacing">USDT</text>
<text x="105.6" y="489" font-size="10.15" fill="#303030" stroke="#303030" stroke-width="0.26" text-anchor="start" textLength="276.4" lengthAdjust="spacing">CVD Divergence Oscillator (2, 21, Periodic, Forex, Yes)</text>
<text x="390" y="489" font-size="10.15" fill="#ee5f68" stroke="#ee5f68" stroke-width="0.26" text-anchor="start" textLength="170.7" lengthAdjust="spacing">−165,403,936,688,837.06291456</text>
<text x="25.4" y="86.1" font-size="10.15" fill="#303030" stroke="#303030" stroke-width="0.26" text-anchor="start" textLength="63.9" lengthAdjust="spacing">0.00001400</text>
<text x="25.4" y="136.1" font-size="10.15" fill="#303030" stroke="#303030" stroke-width="0.26" text-anchor="start" textLength="63.9" lengthAdjust="spacing">0.00001200</text>
<text x="25.4" y="186.1" font-size="10.15" fill="#303030" stroke="#303030" stroke-width="0.26" text-anchor="start" textLength="63.9" lengthAdjust="spacing">0.00001000</text>
<text x="25.4" y="236.1" font-size="10.15" fill="#303030" stroke="#303030" stroke-width="0.26" text-anchor="start" textLength="63.9" lengthAdjust="spacing">0.00000800</text>
<text x="25.4" y="286.1" font-size="10.15" fill="#303030" stroke="#303030" stroke-width="0.26" text-anchor="start" textLength="63.9" lengthAdjust="spacing">0.00000600</text>
<text x="25.4" y="336.1" font-size="10.15" fill="#303030" stroke="#303030" stroke-width="0.26" text-anchor="start" textLength="63.9" lengthAdjust="spacing">0.00000400</text>
<text x="25.4" y="386.1" font-size="10.15" fill="#303030" stroke="#303030" stroke-width="0.26" text-anchor="start" textLength="63.9" lengthAdjust="spacing">0.00000200</text>
<text x="25.4" y="436.1" font-size="10.15" fill="#303030" stroke="#303030" stroke-width="0.26" text-anchor="start" textLength="63.9" lengthAdjust="spacing">0.00000000</text>
<rect x="20" y="297" width="76.8" height="27.3" rx="2" fill="#2962ff"/>
<text x="25.4" y="308.2" font-size="10.15" fill="#e6edff" stroke="#e6edff" stroke-width="0.05" text-anchor="start" textLength="63.9" lengthAdjust="spacing">0.00000511</text>
<text x="53.7" y="321.4" font-size="10.15" fill="#d6e0ff" stroke="#d6e0ff" stroke-width="0.05" text-anchor="start" textLength="35.6" lengthAdjust="spacing">2d 17h</text>
<rect x="97.8" y="297" width="64" height="14.4" rx="2" fill="#2962ff"/>
<text x="101.6" y="308.2" font-size="10.15" fill="#eef2ff" stroke="#eef2ff" stroke-width="0.1" text-anchor="start" textLength="54.6" lengthAdjust="spacing">PEPEUSDT</text>
<text x="815.6" y="480.4" font-size="10.15" fill="#303030" stroke="#303030" stroke-width="0.26" text-anchor="start" textLength="182.4" lengthAdjust="spacing">3,000,000,000,000,000.00000000</text>
<text x="815.6" y="517.2" font-size="10.15" fill="#303030" stroke="#303030" stroke-width="0.26" text-anchor="start" textLength="182.4" lengthAdjust="spacing">2,000,000,000,000,000.00000000</text>
<text x="815.6" y="554.0" font-size="10.15" fill="#303030" stroke="#303030" stroke-width="0.26" text-anchor="start" textLength="182.4" lengthAdjust="spacing">1,000,000,000,000,000.00000000</text>
<text x="815.6" y="591.0" font-size="10.15" fill="#303030" stroke="#303030" stroke-width="0.26" text-anchor="start" textLength="63.1" lengthAdjust="spacing">0.00000000</text>
<text x="815.6" y="627.8" font-size="10.15" fill="#303030" stroke="#303030" stroke-width="0.26" text-anchor="start" textLength="189.2" lengthAdjust="spacing">−1,000,000,000,000,000.00000000</text>
<rect x="807.8" y="586.3" width="192" height="14.8" rx="1.5" fill="#f0525a"/>
<text x="815.6" y="597.5" font-size="10.15" fill="#fff0f0" stroke="#fff0f0" stroke-width="0.05" text-anchor="start" textLength="178.9" lengthAdjust="spacing">−165,403,936,688,837.06291456</text>
<text x="190" y="650.8" font-size="10.6" fill="#222" stroke="#222" stroke-width="0.1" text-anchor="middle" font-weight="bold" textLength="28.0" lengthAdjust="spacing">2024</text>
<text x="297" y="650.6" font-size="10.4" fill="#303030" stroke="#303030" stroke-width="0.26" text-anchor="middle">Jul</text>
<text x="407.5" y="650.8" font-size="10.6" fill="#222" stroke="#222" stroke-width="0.1" text-anchor="middle" font-weight="bold" textLength="28.0" lengthAdjust="spacing">2025</text>
<text x="514" y="650.6" font-size="10.4" fill="#303030" stroke="#303030" stroke-width="0.26" text-anchor="middle">Jul</text>
<text x="620.5" y="650.8" font-size="10.6" fill="#222" stroke="#222" stroke-width="0.1" text-anchor="middle" font-weight="bold" textLength="28.0" lengthAdjust="spacing">2026</text>
<text x="727.5" y="650.6" font-size="10.4" fill="#303030" stroke="#303030" stroke-width="0.26" text-anchor="middle">Jul</text>
<circle cx="53.8" cy="646.6" r="7.3" fill="#f3f1ec"/>
<text x="53.8" y="649.6" font-size="8.4" fill="#555" stroke="#555" stroke-width="0.26" text-anchor="middle">Z</text>
<circle cx="911.6" cy="646.6" r="7.3" fill="#f3f1ec"/>
<text x="911.6" y="649.6" font-size="8.4" fill="#555" stroke="#555" stroke-width="0.26" text-anchor="middle">A</text>
<path d="M10.8 678.8 H21.7 V691.8 H16 V683.7 H10.8 Z" fill="#0a0a0a"/>
<circle cx="26.1" cy="681.2" r="2.45" fill="#0a0a0a"/>
<path d="M30.7 678.8 H37.5 L33 691.8 H26.8 Z" fill="#0a0a0a"/>
<text x="44.3" y="691.75" font-size="18.2" fill="#0a0a0a" stroke="#0a0a0a" stroke-width="0.3" text-anchor="start" font-weight="bold" textLength="108.0" lengthAdjust="spacing">TradingView</text>
</svg></body></html>
